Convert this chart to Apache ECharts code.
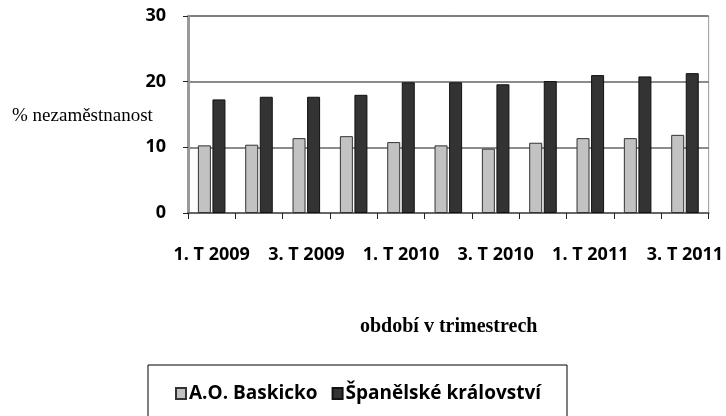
<!DOCTYPE html>
<html>
<head>
<meta charset="utf-8">
<script src="https://cdn.jsdelivr.net/npm/echarts@6/dist/echarts.min.js"></script>
<style>html,body{margin:0;padding:0;background:#fff;}#c{width:726px;height:416px;}</style>
</head>
<body>
<div id="c"></div>
<script>
const categories = ['1. T 2009','2. T 2009','3. T 2009','4. T 2009','1. T 2010','2. T 2010','3. T 2010','4. T 2010','1. T 2011','2. T 2011','3. T 2011'];
const basque = [10.3, 10.4, 11.4, 11.7, 10.8, 10.3, 9.8, 10.7, 11.4, 11.4, 11.9];
const spain = [17.3, 17.7, 17.7, 18.0, 19.9, 19.9, 19.6, 20.1, 21.0, 20.8, 21.3];
const seriesNames = ['A.O. Baskicko', 'Španělské království'];
const yTicks = [0, 10, 20, 30];

const sans = '"Open Sans", sans-serif';
const serif = '"Liberation Serif", "DejaVu Serif", serif';

const chart = echarts.init(document.getElementById('c'), null, {renderer: 'canvas'});
chart.setOption({
  animation: false,
  backgroundColor: '#fff',
  grid: {left: 188, right: 14, top: 16, height: 197, containLabel: false,
         show: true, borderColor: '#999', borderWidth: 1},
  xAxis: {
    type: 'category',
    data: categories,
    axisLine: {lineStyle: {color: '#666', width: 2}},
    axisTick: {show: true, length: 6, interval: 0, lineStyle: {color: '#222'}},
    axisLabel: {
      interval: 1,
      margin: 33,
      fontFamily: sans, fontWeight: 'bold', fontSize: 18, color: '#000'
    }
  },
  yAxis: {
    type: 'value', min: yTicks[0], max: yTicks[yTicks.length - 1], interval: 10,
    axisLine: {show: true, lineStyle: {color: '#999', width: 3}},
    axisTick: {show: true, length: 5, lineStyle: {color: '#222'}},
    splitLine: {show: true, lineStyle: {color: '#666', width: 1.5}},
    axisLabel: {margin: 22, fontFamily: sans, fontWeight: 'bold', fontSize: 18, color: '#000'}
  },
  legend: {
    left: 148, top: 365,
    data: seriesNames,
    icon: 'rect', itemWidth: 10, itemHeight: 11, itemGap: 14,
    borderColor: '#000', borderWidth: 1,
    padding: [19, 26, 22, 27],
    textStyle: {fontFamily: sans, fontWeight: 'bold', fontSize: 19, color: '#000', padding: [0, 0, 0, -2]}
  },
  graphic: [
    {type: 'text', left: 12, top: 107, style: {text: '% nezaměstnanost', font: '19px ' + serif, fill: '#000'}},
    {type: 'text', left: 360, top: 317, style: {text: 'období v trimestrech', font: 'bold 20px ' + serif, fill: '#000'}}
  ],
  series: [
    {name: seriesNames[0], type: 'bar', data: basque, barWidth: 13, barGap: '12%',
     itemStyle: {color: '#c2c2c2', borderColor: '#333', borderWidth: 1}},
    {name: seriesNames[1], type: 'bar', data: spain, barWidth: 13,
     itemStyle: {color: '#333333', borderColor: '#111', borderWidth: 1}}
  ]
});
</script>
</body>
</html>
